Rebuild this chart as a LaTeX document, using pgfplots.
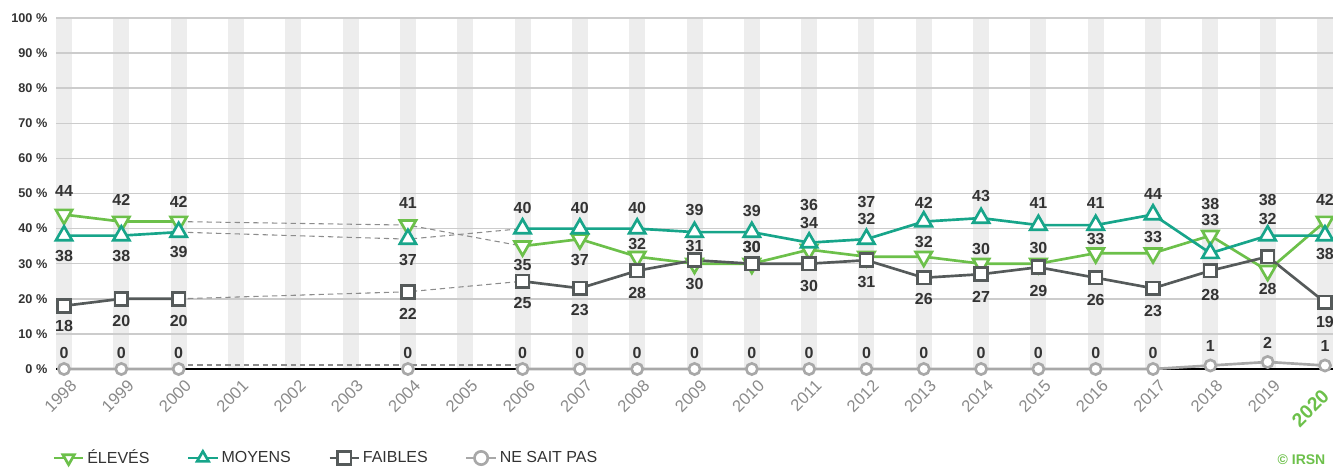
\documentclass[border=0pt]{standalone}
\usepackage{pgfplots}
\pgfplotsset{compat=1.18}
\usepackage{pgfplotstable}
\usepackage{fontspec}
\setmainfont{Liberation Sans}

\definecolor{eleve}{HTML}{6CC04A}
\definecolor{moyen}{HTML}{17A58A}
\definecolor{faible}{HTML}{555A5A}
\definecolor{nsp}{HTML}{A8A8A8}
\definecolor{txt}{HTML}{333333}
\definecolor{band}{HTML}{EDEDED}
\definecolor{gridc}{HTML}{CCCCCC}
\definecolor{tickc}{HTML}{8A8A8A}

% d* = label offset in px (positive = above the point)
\pgfplotstableread{
year E   M   F   N   dE  dM  dF  dN
1998 44  38  18  0   24  -20 -20 16
1999 42  38  20  0   22  -20 -22 16
2000 42  39  20  0   20  -20 -22 16
2002 nan nan nan nan 0   0   0   0
2004 41  37  22  0   22  -21 -22 16
2005 nan nan nan nan 0   0   0   0
2006 35  40  25  0   -19 21  -22 16
2007 37  40  23  0   -21 21  -22 16
2008 32  40  28  0   13  21  -22 16
2009 30  39  31  0   -20 22  14  16
2010 30  39  30  0   17  21  17  16
2011 34  36  30  0   27  38  -22 16
2012 32  37  31  0   38  37  -22 16
2013 32  42  26  0   15  19  -21 16
2014 30  43  27  0   15  22  -23 16
2015 30  41  29  0   16  22  -24 16
2016 33  41  26  0   14  22  -22 16
2017 33  44  23  0   16  21  -23 16
2018 38  33  28  1   32  33  -24 19
2019 28  38  32  2   -18 36  38  19
2020 42  38  19  1   22  -18 -20 19
}\opinion

% surveys missing in 2001-2003 and 2005: dashed links
\pgfplotstableread{
year E  M  F  N
2000 42 39 20 0
2004 41 37 22 0
2006 35 40 25 0
}\gaps

\pgfplotsset{
  labels/.style={draw=none, mark=none, forget plot, nodes near coords,
    point meta=\thisrow{#1},
    nodes near coords style={anchor=center, inner sep=0pt,
      font=\fontsize{12}{14}\selectfont\bfseries, text=txt}},
  gapline/.style={draw=black!45, line width=0.8pt, dash pattern=on 4pt off 3pt,
    mark=none, forget plot},
  serE/.style={color=eleve, line width=2pt, mark=triangle*,
    mark options={fill=white, rotate=180}},
  serM/.style={color=moyen, line width=2pt, mark=triangle*,
    mark options={fill=white}},
  serF/.style={color=faible, line width=2pt, mark=square*,
    mark options={fill=white}},
  serN/.style={color=nsp, line width=2pt, mark=*,
    mark options={fill=white}},
}

\begin{document}
\begin{tikzpicture}
\begin{axis}[
  set layers,
  scale only axis,
  width=957.75pt, height=263.25pt,
  xmin=1997.86, xmax=2020.14, ymin=0, ymax=100,
  axis lines*=left,
  y axis line style={draw=none},
  x axis line style={draw=black, line width=1.5pt, -},
  ytick={0,10,...,100},
  xtick={1998,...,2020},
  xticklabels={1998,1999,2000,2001,2002,2003,2004,2005,2006,2007,2008,2009,
    2010,2011,2012,2013,2014,2015,2016,2017,2018,2019,
    {\textcolor{eleve}{\fontsize{14.5}{16}\selectfont\bfseries 2020}\hspace*{10pt}}},
  major tick length=0pt,
  ymajorgrids, grid style={draw=gridc, line width=1.1pt},
  /pgf/number format/assume math mode=true,
  yticklabel={\pgfmathprintnumber{\tick}\ \%},
  yticklabel style={font=\fontsize{9.5}{11}\selectfont\bfseries, text=txt,
    anchor=east, xshift=-3pt},
  xticklabel style={font=\fontsize{12.5}{14}\selectfont, text=tickc,
    xshift=4pt, yshift=-7pt, anchor=north east, inner sep=0pt, rotate=45},
  unbounded coords=jump,
  clip=false,
  legend columns=4,
  legend cell align=left,
  legend style={at={(axis description cs:-0.006,-0.2536)}, anchor=west,
    draw=none, fill=none, font=\fontsize{12}{14}\selectfont, text=txt,
    /tikz/every even column/.append style={column sep=26pt}},
  legend image code/.code={\draw[mark repeat=2, mark phase=2, #1, mark size=5pt]
    plot coordinates {(0pt,0pt) (11pt,0pt) (22pt,0pt)};},
]
\addplot[ycomb, draw=band, line width=12pt, mark=none, forget plot,
  on layer=axis background] coordinates {
  (1998,100) (1999,100) (2000,100) (2001,100) (2002,100) (2003,100)
  (2004,100) (2005,100) (2006,100) (2007,100) (2008,100) (2009,100)
  (2010,100) (2011,100) (2012,100) (2013,100) (2014,100) (2015,100)
  (2016,100) (2017,100) (2018,100) (2019,100) (2020,100)};

\addplot[gapline] table[x=year, y=E] {\gaps};
\addplot[gapline] table[x=year, y=M] {\gaps};
\addplot[gapline] table[x=year, y=F] {\gaps};
\addplot[gapline, yshift=3pt] table[x=year, y=N] {\gaps};

\addplot[serE, mark size=7pt, forget plot] table[x=year, y=E] {\opinion};
\addplot[serM, mark size=7pt, forget plot] table[x=year, y=M] {\opinion};
\addplot[serF, mark size=4.8pt, forget plot] table[x=year, y=F] {\opinion};
\addplot[serN, mark size=4.2pt, forget plot] table[x=year, y=N] {\opinion};

% value labels (offset 1 px = 100/351 of a percentage point)
\addplot[labels=E] table[x=year, y expr=\thisrow{E}+\thisrow{dE}*0.2849] {\opinion};
\addplot[labels=M] table[x=year, y expr=\thisrow{M}+\thisrow{dM}*0.2849] {\opinion};
\addplot[labels=F] table[x=year, y expr=\thisrow{F}+\thisrow{dF}*0.2849] {\opinion};
\addplot[labels=N] table[x=year, y expr=\thisrow{N}+\thisrow{dN}*0.2849] {\opinion};

\addlegendimage{serE}
\addlegendentry{ÉLEVÉS}
\addlegendimage{serM}
\addlegendentry{MOYENS}
\addlegendimage{serF}
\addlegendentry{FAIBLES}
\addlegendimage{serN}
\addlegendentry{NE SAIT PAS}

\node[anchor=east, font=\fontsize{10.5}{12}\selectfont\bfseries, text=eleve]
  at (axis description cs:0.9977,-0.2593) {© IRSN};

\coordinate (bbsw) at (axis description cs:-0.04385,-0.28205);
\coordinate (bbne) at (axis description cs:1,1.05128);
\end{axis}
\pgfresetboundingbox
\useasboundingbox (bbsw) rectangle (bbne);
\end{tikzpicture}
\end{document}
